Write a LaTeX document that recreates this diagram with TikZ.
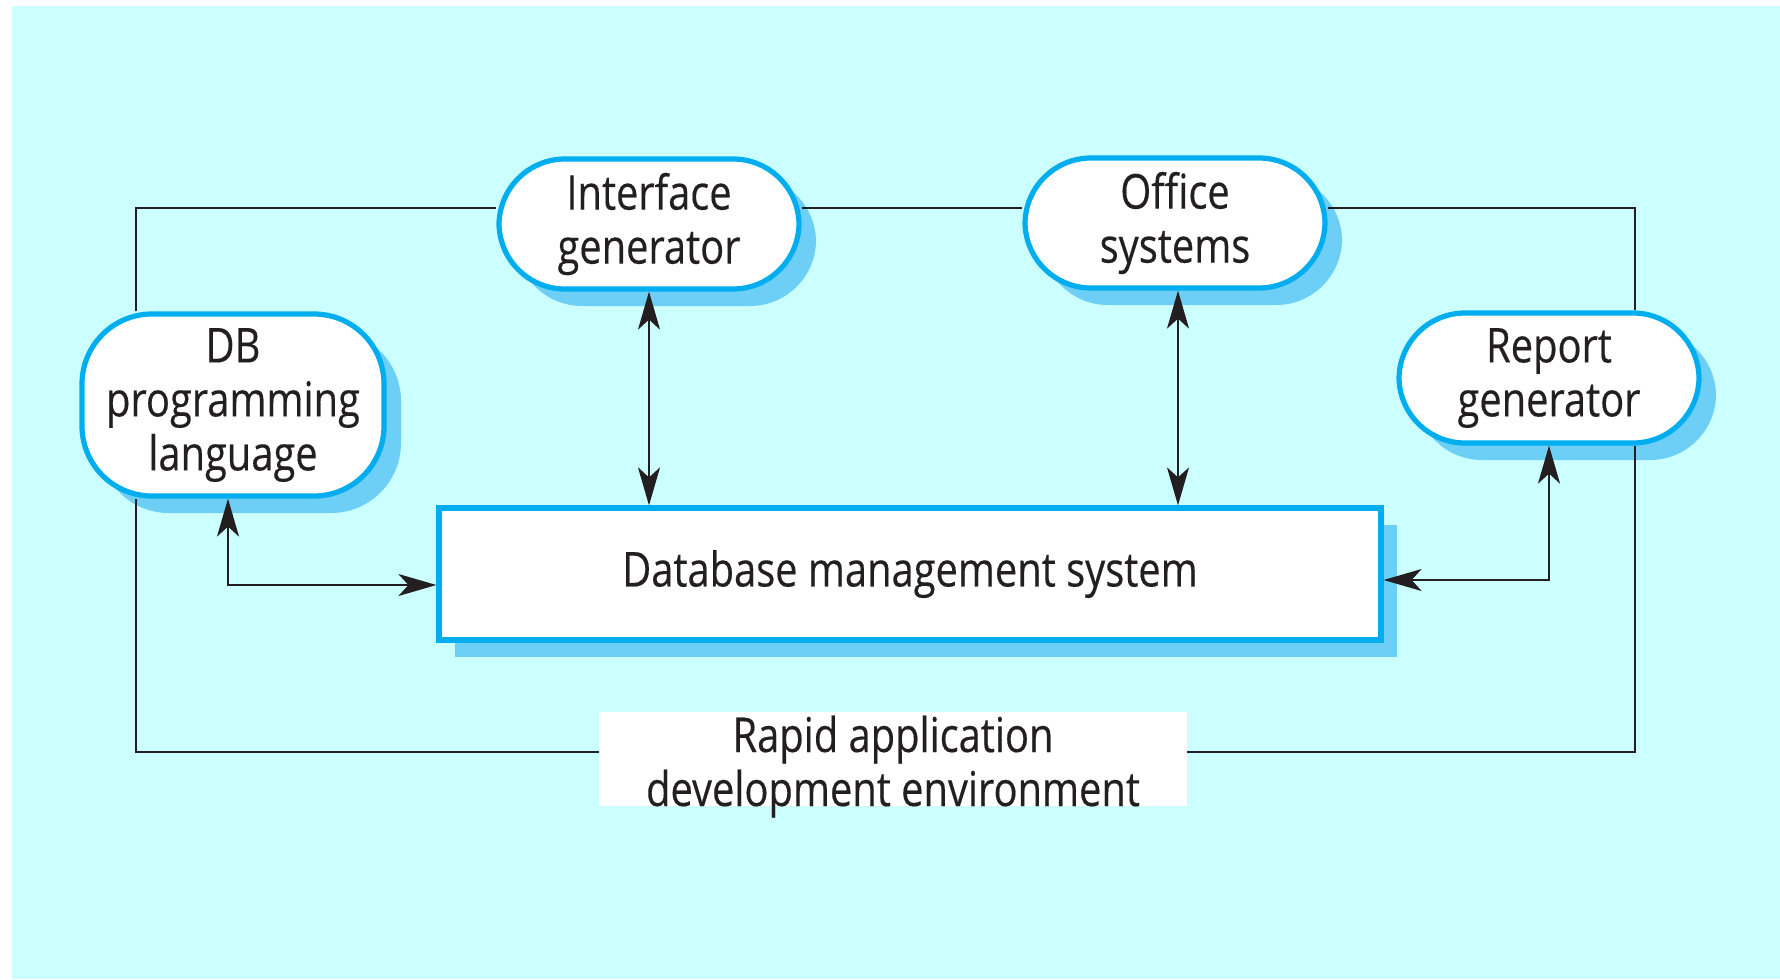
\documentclass[tikz,border=0pt]{standalone}
\usepackage{fontspec}
\setmainfont[FakeStretch=0.83, FakeBold=0.3]{Open Sans}
\usepackage{tikz}
\usetikzlibrary{arrows.meta,calc,positioning,shadows}
\definecolor{bgcyan}{HTML}{CCFFFF}
\definecolor{rimblue}{HTML}{00AEEF}
\definecolor{shadeblue}{HTML}{6DCFF6}
\definecolor{inkdark}{HTML}{231F20}
\tikzset{
	rad diagram/.style={
		x=0.5pt, y=-0.5pt,
		every node/.style={font=\fontsize{24}{27}\selectfont, text=inkdark, align=center},
		>={Stealth[length=19pt, width=11pt, inset=5pt]},
		link/.style={<->, draw=inkdark, line width=1pt},
		envline/.style={draw=inkdark, line width=1pt}
		},
	tool/.style={draw=rimblue, fill=white, line width=2.6pt,
		rounded corners=#1, inner sep=0pt,
		minimum width=150pt, minimum height=65pt,
		drop shadow={shadow xshift=8.5pt, shadow yshift=-8.5pt, fill=shadeblue, opacity=1}},
	tool/.default=33pt,
	core/.style={draw=rimblue, fill=white, line width=2.6pt, inner sep=0pt,
		minimum width=471pt, minimum height=66pt,
		drop shadow={shadow xshift=8pt, shadow yshift=-8.5pt, fill=shadeblue, opacity=1}},
	envlabel/.style={fill=white, inner sep=0pt, minimum width=294pt,
		text height=47pt, text depth=-2pt}
}

\begin{document}
\begin{tikzpicture}[rad diagram]
   \useasboundingbox (0,0) rectangle (1780,979);
   \fill[bgcyan] (12,6) rectangle (1780,979);
   % tools round the database
   \node[tool=35pt, minimum width=151pt, minimum height=91pt] (dblang) at (233,405) {DB\\programming\\language};
   \node[tool] (ifgen) at (649,224) {Interface\\generator};
   \node[tool] (office) at (1175,223) {Office\\systems};
   \node[tool] (report) at (1549,378) {Report\\generator};
   \node[core] (dbms) at (910,574) {Database management system};
   \node[envlabel] (rad) at (893,759) {Rapid application\\development environment};
   % corners of the environment frame
   \coordinate (tl) at (136,208);
   \coordinate (tr) at (1635,208);
   \coordinate (bl) at (136,752);
   \coordinate (br) at (1635,752);
   \draw[envline] (dblang.north -| tl) -- (tl) -- (ifgen.west |- tl);
   \draw[envline] (ifgen.east |- tl) -- (office.west |- tl);
   \draw[envline] (office.east |- tr) -- (tr) -- (report.north -| tr);
   \draw[envline] (report.south -| br) -- (br) -- (rad.east |- br);
   \draw[envline] (rad.west |- bl) -- (bl) -- (dblang.south -| bl);
   % links to the database
   \draw[link] (ifgen.south) -- (ifgen.south |- dbms.north);
   \draw[link] ([xshift=1.5pt]office.south) -- ([xshift=1.5pt]office.south |- dbms.north);
   \draw[link] ([xshift=-2.5pt]dblang.south) |- ([yshift=-5.5pt]dbms.west);
   \draw[link] (report.south) |- ([yshift=-3pt]dbms.east);
\end{tikzpicture}
\end{document}
